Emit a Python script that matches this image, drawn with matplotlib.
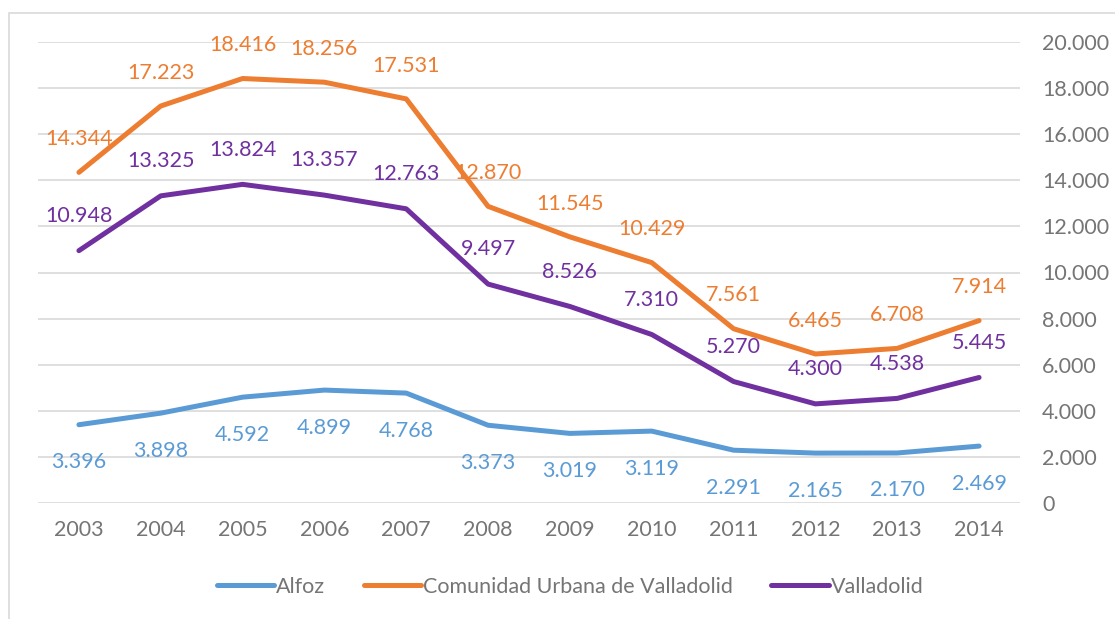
import matplotlib.pyplot as plt
from matplotlib.patches import Rectangle
from matplotlib.ticker import FuncFormatter

plt.rcParams['font.family'] = ['Lato', 'DejaVu Sans']

years = ['2003', '2004', '2005', '2006', '2007', '2008', '2009', '2010', '2011', '2012', '2013', '2014']
alfoz = [3396, 3898, 4592, 4899, 4768, 3373, 3019, 3119, 2291, 2165, 2170, 2469]
comunidad = [14344, 17223, 18416, 18256, 17531, 12870, 11545, 10429, 7561, 6465, 6708, 7914]
valladolid = [10948, 13325, 13824, 13357, 12763, 9497, 8526, 7310, 5270, 4300, 4538, 5445]

c_alfoz = '#5B9BD5'
c_com = '#ED7D31'
c_vall = '#7030A0'
gray = '#757575'
fs = 15.5


def miles(v):
    return f'{v:,.0f}'.replace(',', '.')


fig = plt.figure(figsize=(11.15, 6.19), dpi=100)
ax = fig.add_axes([38 / 1115, 116 / 619, 982 / 1115, 461 / 619])

x = list(range(len(years)))
ax.plot(x, alfoz, color=c_alfoz, lw=3.6, solid_capstyle='round', label='Alfoz')
ax.plot(x, comunidad, color=c_com, lw=3.6, solid_capstyle='round', label='Comunidad Urbana de Valladolid')
ax.plot(x, valladolid, color=c_vall, lw=3.6, solid_capstyle='round', label='Valladolid')

for i in x:
    ax.annotate(miles(alfoz[i]), (i, alfoz[i]), xytext=(0, -27), textcoords='offset points',
                ha='center', va='center', color=c_alfoz, fontsize=fs)
    ax.annotate(miles(comunidad[i]), (i, comunidad[i]), xytext=(0, 24), textcoords='offset points',
                ha='center', va='center', color=c_com, fontsize=fs)
    ax.annotate(miles(valladolid[i]), (i, valladolid[i]), xytext=(0, 25), textcoords='offset points',
                ha='center', va='center', color=c_vall, fontsize=fs)

ax.set_xlim(-0.5, len(years) - 0.5)
ax.set_ylim(0, 20000)
ax.set_xticks(x)
ax.set_xticklabels(years)
ax.set_yticks(range(0, 20001, 2000))
ax.yaxis.set_major_formatter(FuncFormatter(lambda v, p: miles(v)))
ax.yaxis.tick_right()
ax.tick_params(axis='both', length=0, colors=gray, labelsize=fs)
ax.tick_params(axis='y', pad=16)
ax.tick_params(axis='x', pad=12)
ax.grid(axis='y', color='#D9D9D9', lw=1.2)
ax.set_axisbelow(True)
for s in ax.spines.values():
    s.set_visible(False)

leg = fig.legend(loc='center', bbox_to_anchor=(570 / 1115, 1 - 587 / 619), ncol=3, frameon=False,
                 fontsize=fs, handlelength=2.65, handletextpad=0.1, columnspacing=1.8)
for t in leg.get_texts():
    t.set_color(gray)

# thin frame round the chart
fig.patches.append(Rectangle((9 / 1115, -0.05), 1.2, 1 - 13 / 619 + 0.05, transform=fig.transFigure,
                             fill=False, edgecolor='#D9D9D9', lw=1.2))

fig.savefig('out.png', dpi=100)
